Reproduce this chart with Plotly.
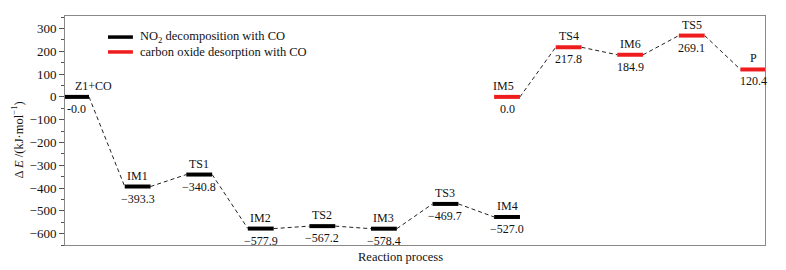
import plotly.graph_objects as go

# Data
black_names = ["Z1+CO", "IM1", "TS1", "IM2", "TS2", "IM3", "TS3", "IM4"]
black_vals = [0.0, -393.3, -340.8, -577.9, -567.2, -578.4, -469.7, -527.0]
black_pos = [0, 1, 2, 3, 4, 5, 6, 7]
black_lbls = ["-0.0", "\u2212393.3", "\u2212340.8", "\u2212577.9", "\u2212567.2", "\u2212578.4", "\u2212469.7", "\u2212527.0"]

red_names = ["IM5", "TS4", "IM6", "TS5", "P"]
red_vals = [0.0, 217.8, 184.9, 269.1, 120.4]
red_pos = [7, 8, 9, 10, 11]
red_lbls = ["0.0", "217.8", "184.9", "269.1", "120.4"]

y_ticks = [-600, -500, -400, -300, -200, -100, 0, 100, 200, 300]

legend_texts = ["NO<sub>2</sub> decomposition with CO", "carbon oxide desorption with CO"]

HW = 0.21
BLACK = "#000000"
RED = "#ee1c1c"
FONT = "Liberation Serif, Times New Roman, serif"

fig = go.Figure()

def add_series(pos, vals, names, lbls, color, legname, name_xshift=None):
    for i in range(len(pos) - 1):
        fig.add_trace(go.Scatter(
            x=[pos[i] + HW, pos[i + 1] - HW], y=[vals[i], vals[i + 1]],
            mode="lines", line=dict(color="#222", width=1, dash="4px,3px"),
            showlegend=False, hoverinfo="skip"))
    for i in range(len(pos)):
        fig.add_trace(go.Scatter(
            x=[pos[i] - HW, pos[i] + HW], y=[vals[i], vals[i]],
            mode="lines", line=dict(color=color, width=4),
            name=legname, showlegend=False))
    for i in range(len(pos)):
        xs = 0
        if name_xshift and i in name_xshift:
            xs = name_xshift[i]
        fig.add_annotation(x=pos[i], y=vals[i], text=names[i], showarrow=False,
                           yshift=11, xshift=xs, font=dict(family=FONT, size=12, color="#111"))
        fig.add_annotation(x=pos[i], y=vals[i], text=lbls[i], showarrow=False,
                           yshift=-12, font=dict(family=FONT, size=12, color="#111"))

add_series(black_pos, black_vals, black_names, black_lbls, BLACK,
           legend_texts[0], name_xshift={0: 17})
add_series(red_pos, red_vals, red_names, red_lbls, RED,
           legend_texts[1], name_xshift={0: -4})

# manual legend
leg_y = [0.908, 0.843]
leg_colors = [BLACK, RED]
for yy, col, txt in zip(leg_y, leg_colors, legend_texts):
    fig.add_shape(type="line", xref="paper", yref="paper", x0=0.0614, x1=0.097,
                  y0=yy, y1=yy, line=dict(color=col, width=3.5))
    fig.add_annotation(xref="paper", yref="paper", x=0.104, y=yy, xanchor="left",
                       yanchor="middle", text=txt, showarrow=False,
                       font=dict(family=FONT, size=12.5, color="#111"))

# axis titles
fig.add_annotation(xref="paper", yref="paper", x=-0.068, y=0.4585, textangle=-90,
                   xanchor="center", yanchor="middle",
                   text="\u0394 <i>E</i> /(kJ\u00b7mol<sup>\u22121</sup>)", showarrow=False,
                   font=dict(family=FONT, size=12.5, color="#111"))
fig.add_annotation(xref="paper", yref="paper", x=0.4786, y=-0.0524,
                   xanchor="center", yanchor="middle",
                   text="Reaction process", showarrow=False,
                   font=dict(family=FONT, size=12.5, color="#111"))

fig.update_layout(
    width=778, height=262,
    margin=dict(l=57, r=21, t=8, b=25),
    paper_bgcolor="white", plot_bgcolor="white",
    font=dict(family=FONT, size=12, color="#111"),
    showlegend=False,
    xaxis=dict(range=[-0.18, 11.19], showticklabels=False, ticks="",
               showgrid=False, zeroline=False, showline=True, linecolor="#888",
               linewidth=1, mirror=True, automargin=False),
    yaxis=dict(range=[-650, 355], tickvals=y_ticks, ticks="outside", ticklen=5,
               tickcolor="#555", showgrid=False, zeroline=False, showline=True,
               linecolor="#888", linewidth=1, mirror=True, automargin=False,
               tickfont=dict(family=FONT, size=13),
               minor=dict(dtick=50, ticks="outside", ticklen=3, tickcolor="#555", showgrid=False)),
)

fig.write_html("out.html")
